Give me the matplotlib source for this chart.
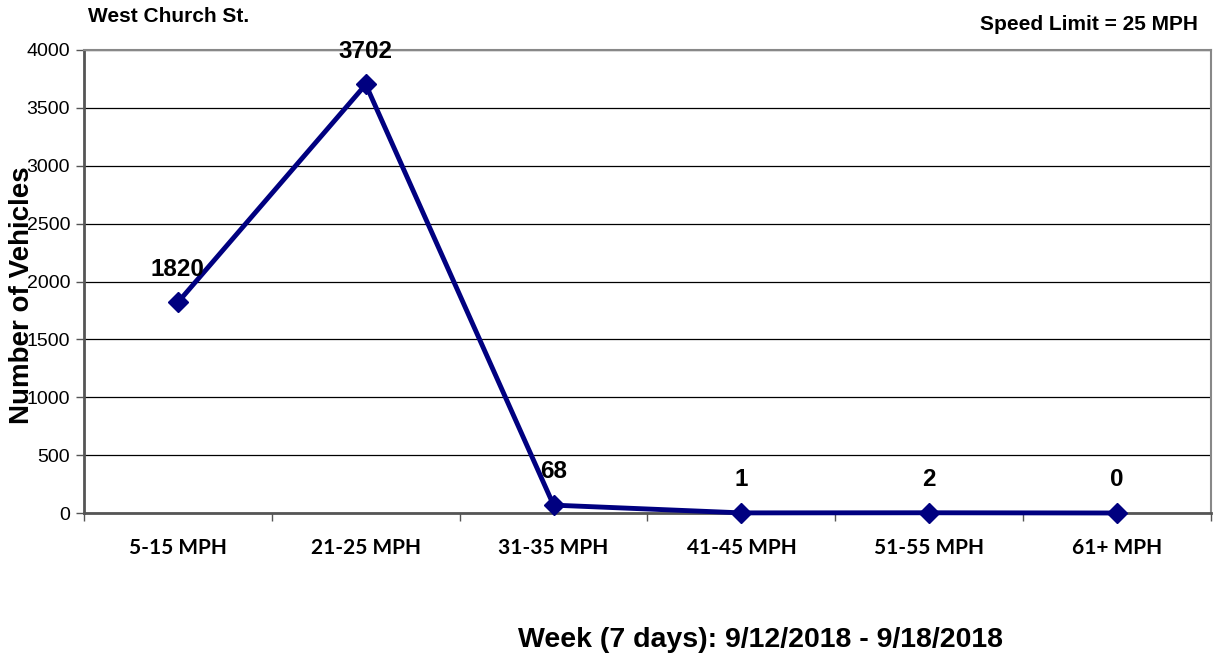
import matplotlib
matplotlib.use("Agg")
import matplotlib.pyplot as plt

categories = ["5-15 MPH", "21-25 MPH", "31-35 MPH", "41-45 MPH", "51-55 MPH", "61+ MPH"]
counts = [1820, 3702, 68, 1, 2, 0]
yticks = [0, 500, 1000, 1500, 2000, 2500, 3000, 3500, 4000]

W, H = 1215, 657
fig = plt.figure(figsize=(W / 100, H / 100), dpi=100)
left, right, top, bottom = 84, 1211, 50, 513
ax = fig.add_axes([left / W, 1 - bottom / H, (right - left) / W, (bottom - top) / H])

x = list(range(len(categories)))
ax.plot(x, counts, color="#000080", lw=3.5, marker="D", ms=10, zorder=3, clip_on=False)
for xi, v in zip(x, counts):
    ax.annotate(str(v), (xi, v), xytext=(0, 24), textcoords="offset points",
                ha="center", va="center", fontsize=17.5, fontweight="bold",
                family="Liberation Sans")

ax.set_xlim(-0.5, len(categories) - 0.5)
ax.set_ylim(0, 4000)
ax.set_yticks(yticks)
ax.set_yticklabels([str(t) for t in yticks], fontsize=14, family="Liberation Sans")
ax.set_xticks([i - 0.5 for i in range(len(categories) + 1)])
ax.set_xticklabels([])
ax.set_xticks(x, minor=True)
ax.set_xticklabels(categories, minor=True, fontsize=15, fontweight="bold", family="Lato")
ax.tick_params(axis="x", which="minor", length=0, pad=18)
ax.tick_params(axis="x", which="major", length=6, width=1, color="#555555", direction="out")
ax.tick_params(axis="y", length=6, width=1, color="#555555", direction="out", pad=4)

ax.grid(axis="y", color="black", lw=0.9)
ax.set_axisbelow(True)
for s in ["top", "right"]:
    ax.spines[s].set_color("#888888")
    ax.spines[s].set_linewidth(1.5)
ax.spines["left"].set_color("#555555")
ax.spines["left"].set_linewidth(2)
ax.spines["bottom"].set_color("#555555")
ax.spines["bottom"].set_linewidth(2)

fig.text(22 / W, 1 - 295 / H, "Number of Vehicles", rotation=90, ha="center", va="center",
         fontsize=20, fontweight="bold", family="Liberation Sans")
fig.text(88 / W, 1 - 17 / H, "West Church St.", ha="left", va="center",
         fontsize=15, fontweight="bold", family="Liberation Sans")
fig.text(1198 / W, 1 - 24 / H, "Speed Limit = 25 MPH", ha="right", va="center",
         fontsize=15, fontweight="bold", family="Liberation Sans")
fig.text(761 / W, 1 - 640 / H, "Week (7 days): 9/12/2018 - 9/18/2018", ha="center", va="center",
         fontsize=20.5, fontweight="bold", family="Liberation Sans")

fig.savefig("out.png", dpi=100)
